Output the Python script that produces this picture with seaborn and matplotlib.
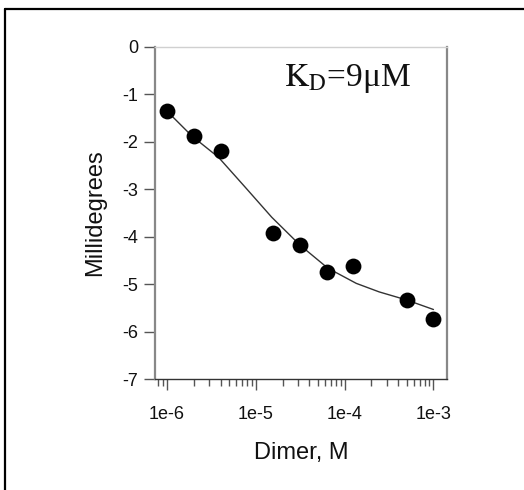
import numpy as np
import pandas as pd
import matplotlib
matplotlib.use("Agg")
import matplotlib.pyplot as plt
from matplotlib.lines import Line2D
from matplotlib.ticker import FixedLocator, FixedFormatter, LogLocator, NullFormatter
import seaborn as sns

# Measured CD signal vs dimer concentration
conc_M = [1e-6, 2e-6, 4e-6, 1.56e-5, 3.125e-5, 6.25e-5, 1.25e-4, 5e-4, 1e-3]
mdeg = [-1.36, -1.89, -2.20, -3.92, -4.18, -4.75, -4.62, -5.32, -5.73]

# Fitted binding curve (KD = 9 uM)
fit_conc_M = [1.0e-6, 1.9e-6, 3.8e-6, 7.6e-6, 1.51e-5, 3.16e-5, 6.46e-5,
              1.35e-4, 2.45e-4, 5.0e-4, 1.0e-3]
fit_mdeg = [-1.36, -1.88, -2.33, -2.96, -3.59, -4.18, -4.66,
            -4.98, -5.16, -5.33, -5.53]

x_ticks = [1e-6, 1e-5, 1e-4, 1e-3]
x_tick_labels = ["1e-6", "1e-5", "1e-4", "1e-3"]
y_ticks = [0, -1, -2, -3, -4, -5, -6, -7]
y_tick_labels = ["0", "-1", "-2", "-3", "-4", "-5", "-6", "-7"]

sns.set_theme(style="white")
plt.rcParams["font.family"] = ["Liberation Sans", "DejaVu Sans"]
plt.rcParams["mathtext.fontset"] = "stix"

points = pd.DataFrame({"conc": conc_M, "mdeg": mdeg})
fit = pd.DataFrame({"conc": fit_conc_M, "mdeg": fit_mdeg})

fig = plt.figure(figsize=(5.24, 4.90), dpi=100)
ax = fig.add_axes([0.296, 0.2257, 0.557, 0.6793])

sns.lineplot(data=fit, x="conc", y="mdeg", ax=ax, color="#333333",
             linewidth=1.0, sort=True, estimator=None)
sns.scatterplot(data=points, x="conc", y="mdeg", ax=ax, color="black",
                s=130, edgecolor="black", linewidth=0, zorder=3)

ax.set_xscale("log")
ax.set_xlim(7.33e-7, 1.42e-3)
ax.set_ylim(-7, 0)

ax.xaxis.set_major_locator(FixedLocator(x_ticks))
ax.xaxis.set_major_formatter(FixedFormatter(x_tick_labels))
ax.xaxis.set_minor_locator(LogLocator(base=10, subs=np.arange(2, 10)))
ax.xaxis.set_minor_formatter(NullFormatter())
ax.yaxis.set_major_locator(FixedLocator(y_ticks))
ax.yaxis.set_major_formatter(FixedFormatter(y_tick_labels))

ax.tick_params(axis="both", which="major", direction="out", length=8,
               width=1.0, color="#555555", labelsize=13, labelcolor="#111111",
               bottom=True, left=True, pad=4)
ax.tick_params(axis="x", which="major", pad=11)
ax.tick_params(axis="x", which="minor", direction="out", length=5,
               width=1.0, color="#555555", bottom=True)

for side, col, lw in [("left", "#888888", 1.6), ("right", "#888888", 1.6),
                      ("top", "#d0d0d0", 1.0), ("bottom", "#333333", 1.0)]:
    ax.spines[side].set_visible(True)
    ax.spines[side].set_color(col)
    ax.spines[side].set_linewidth(lw)

ax.set_xlabel("Dimer, M", fontsize=17, labelpad=14, color="#111111")
ax.set_ylabel("Millidegrees", fontsize=17, labelpad=12, color="#111111")

ax.text(0.44, 0.955, r"$\mathrm{K_D}$=9μM", transform=ax.transAxes,
        fontsize=24, family=["Liberation Serif", "DejaVu Serif"],
        va="top", ha="left", color="#111111")

# Frame lines along the top and left edges of the figure
fig.add_artist(Line2D([0.0095, 1.0], [0.9816, 0.9816], transform=fig.transFigure,
                      color="black", linewidth=1.6))
fig.add_artist(Line2D([0.0095, 0.0095], [0.0, 0.9816], transform=fig.transFigure,
                      color="black", linewidth=1.6))

fig.savefig("out.png", dpi=100, facecolor="white")
